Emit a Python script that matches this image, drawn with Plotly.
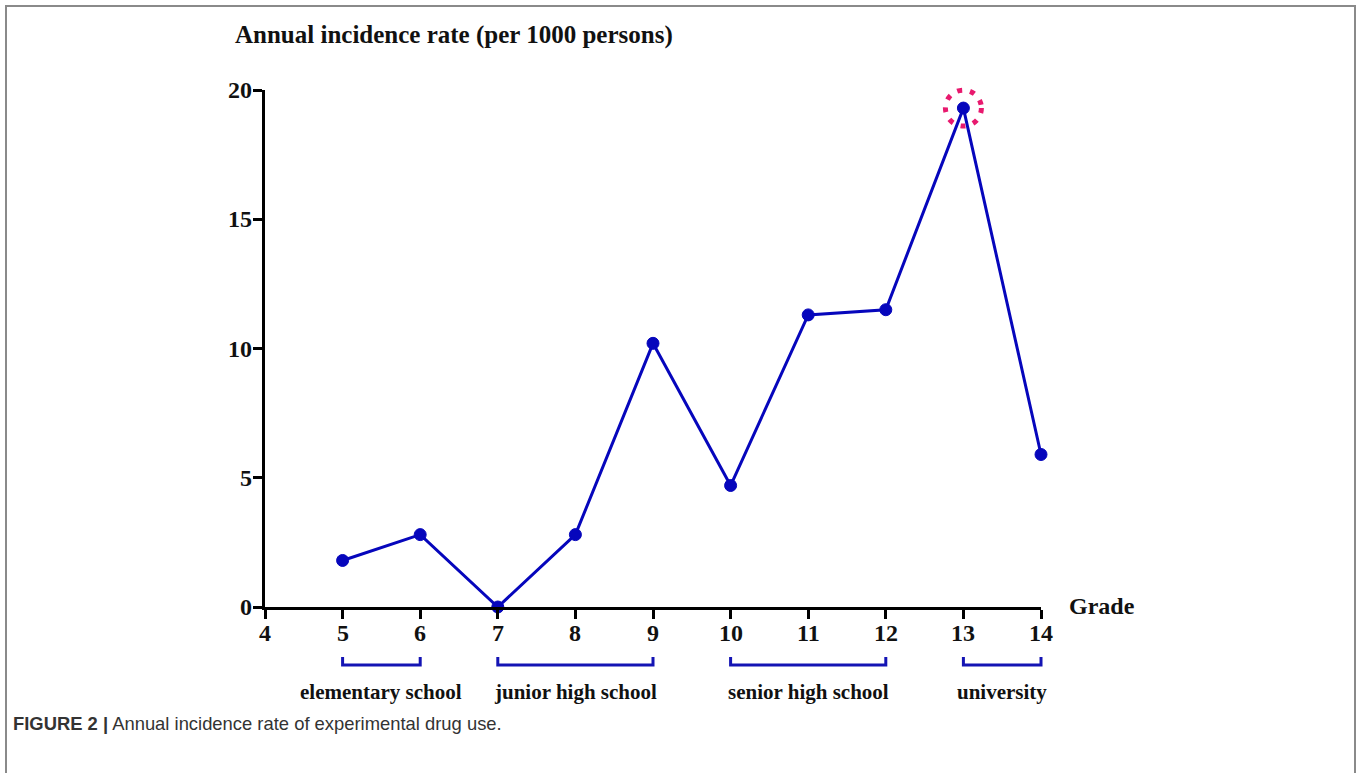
import plotly.graph_objects as go

# ---- data ----
grades = [5, 6, 7, 8, 9, 10, 11, 12, 13, 14]
incidence = [1.8, 2.8, 0.0, 2.8, 10.2, 4.7, 11.3, 11.5, 19.3, 5.9]
x_ticks = [4, 5, 6, 7, 8, 9, 10, 11, 12, 13, 14]
y_ticks = [0, 5, 10, 15, 20]
groups = ["elementary school", "junior high school", "senior high school", "university"]
group_start = [5, 7, 10, 13]
group_end = [6, 9, 12, 14]
highlight_grade = 13

W, H = 1357, 773
L, R, T, B = 265, 1041, 90, 607
XMIN, XMAX, YMIN, YMAX = 4, 14, 0, 20

def px_x(p):
    return (p - L) / (R - L)

def px_y(p):
    return (B - p) / (B - T)

def dx(v):
    return (v - XMIN) / (XMAX - XMIN)

def dy(v):
    return (v - YMIN) / (YMAX - YMIN)

serif = "Liberation Serif, Times New Roman, serif"
blue = "#0606bc"

fig = go.Figure()
fig.add_trace(go.Scatter(
    x=grades, y=incidence, mode="lines+markers",
    line=dict(color=blue, width=3),
    marker=dict(symbol="circle", size=12, color=blue, line=dict(color=blue, width=1)),
    cliponaxis=False, showlegend=False, hoverinfo="x+y",
))

shapes = []
# brackets
for s, e in zip(group_start, group_end):
    x0, x1 = dx(s), dx(e)
    ytop, ybot = px_y(657), px_y(665)
    shapes.append(dict(type="path", xref="paper", yref="paper",
                       path=f"M {x0},{ytop} L {x0},{ybot} L {x1},{ybot} L {x1},{ytop}",
                       line=dict(color="#1414b4", width=3)))
# highlight dotted circle
hi = grades.index(highlight_grade)
cx, cy = dx(grades[hi]), dy(incidence[hi])
rx, ry = 18 / (R - L), 18 / (B - T)
shapes.append(dict(type="circle", xref="paper", yref="paper",
                   x0=cx - rx, x1=cx + rx, y0=cy - ry, y1=cy + ry,
                   line=dict(color="#e8196e", width=5, dash="5px,8px")))
# figure border (left, top, right)
shapes.append(dict(type="path", xref="paper", yref="paper",
                   path=f"M {px_x(6)},{px_y(800)} L {px_x(6)},{px_y(6)} L {px_x(1355)},{px_y(6)} L {px_x(1355)},{px_y(800)}",
                   line=dict(color="#8a8a8a", width=2)))

annotations = []
annotations.append(dict(text="<b>Annual incidence rate (per 1000 persons)</b>",
                        xref="paper", yref="paper", x=px_x(233), y=px_y(35),
                        xanchor="left", yanchor="middle", showarrow=False,
                        font=dict(family=serif, size=25, color="#111")))
annotations.append(dict(text="<b>Grade</b>", xref="paper", yref="paper",
                        x=px_x(1067), y=px_y(606), xanchor="left", yanchor="middle",
                        showarrow=False, font=dict(family=serif, size=24, color="#111")))
# tick labels
for v in x_ticks:
    annotations.append(dict(text=f"<b>{v}</b>", xref="paper", yref="paper",
                            x=dx(v), y=px_y(633), xanchor="center", yanchor="middle",
                            showarrow=False, font=dict(family=serif, size=24, color="#111")))
for v in y_ticks:
    annotations.append(dict(text=f"<b>{v}</b>", xref="paper", yref="paper",
                            x=px_x(254), y=dy(v), xanchor="right", yanchor="middle",
                            showarrow=False, xshift=0,
                            font=dict(family=serif, size=24, color="#111")))
for g, s, e in zip(groups, group_start, group_end):
    annotations.append(dict(text=f"<b>{g}</b>", xref="paper", yref="paper",
                            x=(dx(s) + dx(e)) / 2, y=px_y(692),
                            xanchor="center", yanchor="middle", showarrow=False,
                            font=dict(family=serif, size=21, color="#111")))
annotations.append(dict(text="<b>FIGURE 2 |</b> Annual incidence rate of experimental drug use.",
                        xref="paper", yref="paper", x=px_x(11), y=px_y(723),
                        xanchor="left", yanchor="middle", showarrow=False,
                        font=dict(family="Liberation Sans, Arial, sans-serif", size=18.4, color="#333")))

fig.update_layout(
    width=W, height=H,
    margin=dict(l=L, r=W - R, t=T, b=H - B, pad=0),
    paper_bgcolor="white", plot_bgcolor="white",
    shapes=shapes, annotations=annotations,
    xaxis=dict(range=[XMIN, XMAX], tickvals=x_ticks, showticklabels=False,
               showgrid=False, zeroline=False, showline=True, linecolor="black", linewidth=3,
               ticks="outside", ticklen=9, tickwidth=3, tickcolor="black"),
    yaxis=dict(range=[YMIN, YMAX], tickvals=y_ticks, showticklabels=False,
               showgrid=False, zeroline=False, showline=True, linecolor="black", linewidth=3,
               ticks="outside", ticklen=9, tickwidth=3, tickcolor="black"),
)

fig.write_html("out.html", config={"displayModeBar": False},
               post_script="document.body.style.margin='0';document.body.style.overflow='hidden';")
